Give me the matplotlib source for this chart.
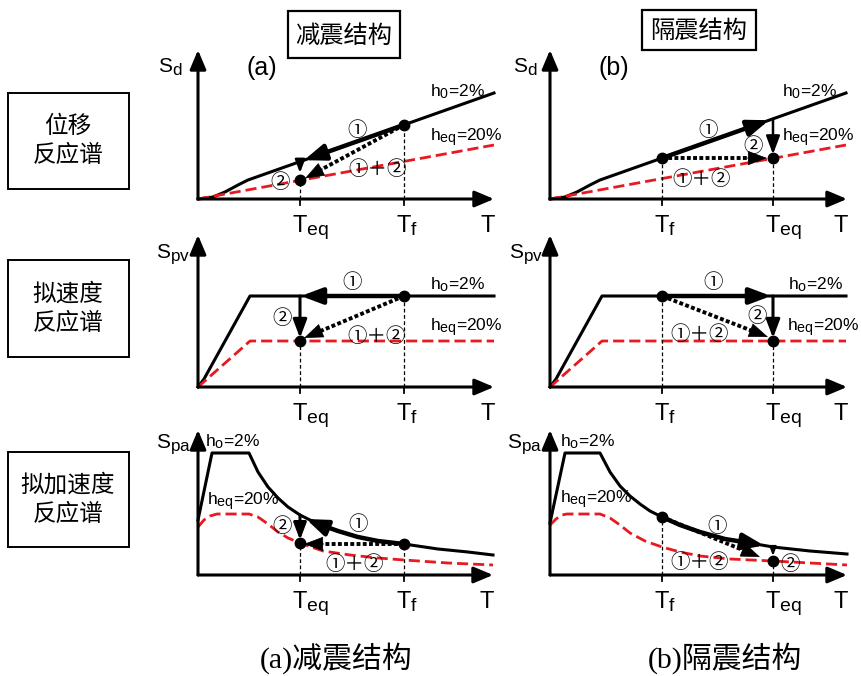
import numpy as np
import matplotlib
import matplotlib.pyplot as plt
from matplotlib.patches import Rectangle

plt.rcParams['font.family'] = ['Liberation Sans', 'Noto Sans CJK JP']
plt.rcParams['mathtext.default'] = 'regular'
# subscripts in the source drawing are nearly full size
matplotlib._mathtext.SHRINK_FACTOR = 0.82

# curves, in pixels right of / above each panel's origin
# displacement spectrum (same shape in (a) and (b))
sd_t = [0, 15, 27, 40, 50, 296]
sd_h0 = [0, 2, 7, 14, 19, 106]
sd_heq_t = [0, 296]
sd_heq = [0, 54]

# pseudo-velocity spectrum
pv_t = [0, 6, 52, 296]
pv_h0 = [0, 8, 91, 91]
pv_heq_t = [0, 52, 296]
pv_heq = [0, 46, 46]

# pseudo-acceleration spectrum, (a)
pa_a_t = [0, 14, 51, 60, 70, 80, 90, 102, 120, 140, 160, 180, 206, 240, 270, 295]
pa_a_h0 = [55, 122, 122, 103, 88, 77, 68, 60, 51, 44, 38, 34, 31, 26, 23, 20]
pa_a_heq_t = [0, 6, 12, 19, 51, 60, 70, 80, 90, 102, 125, 152, 180, 206, 250, 295]
pa_a_heq = [48, 55, 59, 61, 61, 58, 51, 43, 37, 32, 24, 20, 17, 15, 12, 10]

# pseudo-acceleration spectrum, (b)
pa_b_t = [0, 15, 50, 60, 70, 80, 90, 100, 112, 130, 150, 175, 200, 223, 260, 297]
pa_b_h0 = [52, 122, 122, 103, 89, 79, 71, 64, 58, 50, 43, 36, 32, 28, 24, 21]
pa_b_heq_t = [0, 6, 12, 17, 50, 60, 70, 80, 95, 112, 130, 150, 180, 223, 260, 297]
pa_b_heq = [50, 56, 60, 61, 61, 57, 50, 42, 34, 28, 23, 19, 16, 14, 12, 10]

# periods
ta_eq, ta_f = 102, 206
tb_f, tb_eq = 112, 223

row_names = ['位移\n反应谱', '拟速度\n反应谱', '拟加速度\n反应谱']

W, H = 861, 676
RED = '#e8191f'
CJK = ['Noto Sans CJK SC']
NUM = ['Noto Sans CJK JP']

fig = plt.figure(figsize=(W / 100, H / 100), dpi=100)

bg = fig.add_axes([0, 0, 1, 1])
bg.set_xlim(0, W)
bg.set_ylim(H, 0)
bg.axis('off')


def panel(ox, oy):
    ax = fig.add_axes([(ox - 50) / W, (H - (oy + 45)) / H, 360 / W, 205 / H])
    ax.set_xlim(-50, 310)
    ax.set_ylim(-45, 160)
    ax.axis('off')
    return ax


def head(ax, p0, p1, ms=15, lw=1.0):
    ax.annotate('', xy=p1, xytext=p0,
                arrowprops=dict(arrowstyle='-|>,head_length=0.85,head_width=0.32', lw=lw, color='k',
                                shrinkA=0, shrinkB=0, mutation_scale=ms))


def arrow(ax, p0, p1, ms=15, lw=3.2):
    head(ax, p0, p1, ms=ms, lw=lw)


def dotted(ax, p0, p1, ms=15):
    p0, p1 = np.array(p0, float), np.array(p1, float)
    d = p1 - p0
    d /= np.hypot(*d)
    ax.plot([p0[0], p1[0] - 10 * d[0]], [p0[1], p1[1] - 10 * d[1]], color='k', lw=2.8,
            ls=(0, (1, 0.6)))
    head(ax, p1 - 20 * d, p1, ms=ms, lw=0.5)


def frame(ax, xtip, ytip, ticks, tick_labels, h0_lab, h0_pos, heq_pos, ylab, ylab_pos):
    for end in [(xtip, 0), (0, ytip)]:
        ax.annotate('', xy=end, xytext=(0, 0),
                    arrowprops=dict(arrowstyle='-|>,head_length=0.9,head_width=0.38', lw=2.2, color='k',
                                    shrinkA=0, shrinkB=0, mutation_scale=13))
    for t, lab in zip(ticks, tick_labels):
        ax.plot([t, t], [0, -6], color='k', lw=1.3)
        ax.text(t - 8, -33, lab, fontsize=17, ha='left', va='baseline')
    ax.text(xtip - 14, -33, 'T', fontsize=17, ha='left', va='baseline')
    ax.text(h0_pos[0], h0_pos[1], h0_lab, fontsize=12.5, ha='left', va='center')
    ax.text(heq_pos[0], heq_pos[1], 'h$_{eq}$=20%', fontsize=12.5, ha='left', va='center')
    ax.text(ylab_pos[0], ylab_pos[1], ylab, fontsize=15, ha='left', va='baseline')


def guides(ax, pts):
    for x, y in pts:
        ax.plot([x, x], [0, y], color='k', lw=0.9, ls=(0, (3, 2)))
        ax.plot([x], [y], 'o', color='k', ms=7.5, zorder=5)


def num(ax, x, y, s):
    ax.text(x, y, s, fontsize=14, ha='center', va='center', family=NUM)


TEQ = 'T$_{eq}$'
TF = 'T$_{f}$'

# ---------- row 1: displacement ----------
for col, (ox, ticks, labs) in enumerate([(198, (ta_eq, ta_f), (TEQ, TF)),
                                          (550, (tb_f, tb_eq), (TF, TEQ))]):
    ax = panel(ox, 199)
    ax.plot(sd_t, sd_h0, color='k', lw=2.2)
    ax.plot(sd_heq_t, sd_heq, color=RED, lw=2, ls=(0, (4, 1.8)))
    frame(ax, 296 if col == 0 else 297, 149, ticks, labs, 'h$_0$=2%', (232, 107), (232, 61),
          'S$_d$', (-40 if col == 0 else -37, 126))
    ax.text(64, 131, '(a)' if col == 0 else '(b)', fontsize=18, ha='center', va='center')
    if col == 0:
        pf = (ta_f, np.interp(ta_f, sd_t, sd_h0))
        pe = (ta_eq, np.interp(ta_eq, sd_heq_t, sd_heq))
        arrow(ax, pf, (106, np.interp(106, sd_t, sd_h0)))
        arrow(ax, (ta_eq, np.interp(ta_eq, sd_t, sd_h0)), (ta_eq, 26), ms=9, lw=1.8)
        dotted(ax, pf, (pe[0] + 5, pe[1] + 2))
        guides(ax, [pe, pf])
        num(ax, 159, 69, '①')
        num(ax, 180, 29, '①＋②')
        num(ax, 82, 16, '②')
    else:
        pf = (tb_f, np.interp(tb_f, sd_t, sd_h0))
        pe = (tb_eq, np.interp(tb_eq, sd_heq_t, sd_heq))
        arrow(ax, pf, (219, np.interp(219, sd_t, sd_h0)))
        arrow(ax, (tb_eq, np.interp(tb_eq, sd_t, sd_h0)), (tb_eq, pe[1] + 4), ms=13, lw=1.8)
        dotted(ax, pf, (pe[0] - 6, pf[1]))
        guides(ax, [pf, pe])
        num(ax, 158, 68, '①')
        num(ax, 203, 53, '②')
        num(ax, 152, 19, '①＋②')

# ---------- row 2: pseudo-velocity ----------
for col, (ox, ticks, labs) in enumerate([(198, (ta_eq, ta_f), (TEQ, TF)),
                                          (550, (tb_f, tb_eq), (TF, TEQ))]):
    ax = panel(ox, 387)
    ax.plot(pv_t, pv_h0, color='k', lw=2.2)
    ax.plot(pv_heq_t, pv_heq, color=RED, lw=2, ls=(0, (4, 1.8)))
    frame(ax, 296 if col == 0 else 297, 152, ticks, labs, 'h$_o$=2%',
          (232 if col == 0 else 238, 102), (232 if col == 0 else 237, 59),
          'S$_{pv}$', (-42 if col == 0 else -41, 128))
    if col == 0:
        pf = (ta_f, np.interp(ta_f, pv_t, pv_h0))
        pe = (ta_eq, np.interp(ta_eq, pv_heq_t, pv_heq))
        arrow(ax, pf, (ta_eq + 1, pf[1]))
        arrow(ax, (ta_eq, pf[1]), (ta_eq, pe[1] + 3), ms=13, lw=2.2)
        dotted(ax, pf, (pe[0] + 4, pe[1] + 3))
        guides(ax, [pe, pf])
        num(ax, 154, 104, '①')
        num(ax, 84, 69, '②')
        num(ax, 179, 50, '①＋②')
    else:
        pf = (tb_f, np.interp(tb_f, pv_t, pv_h0))
        pe = (tb_eq, np.interp(tb_eq, pv_heq_t, pv_heq))
        arrow(ax, pf, (tb_eq - 2, pf[1]))
        arrow(ax, (tb_eq, pf[1]), (tb_eq, pe[1] + 3), ms=13, lw=2.2)
        dotted(ax, pf, (pe[0] - 5, pe[1] + 4))
        guides(ax, [pf, pe])
        num(ax, 163, 104, '①')
        num(ax, 207, 70, '②')
        num(ax, 150, 52, '①＋②')

# ---------- row 3: pseudo-acceleration ----------
ax = panel(198, 575)
ax.plot(pa_a_t, pa_a_h0, color='k', lw=2.2)
ax.plot(pa_a_heq_t, pa_a_heq, color=RED, lw=2, ls=(0, (4, 1.8)))
frame(ax, 295, 145, (ta_eq, ta_f), (TEQ, TF), 'h$_o$=2%', (7, 133), (9, 73), 'S$_{pa}$', (-42, 126))
pf = (ta_f, np.interp(ta_f, pa_a_t, pa_a_h0))
pe = (ta_eq, np.interp(ta_eq, pa_a_heq_t, pa_a_heq))
seg = [(t, s) for t, s in zip(pa_a_t, pa_a_h0) if 120 <= t <= ta_f]
ax.plot([p[0] for p in seg], [p[1] for p in seg], color='k', lw=3.2, solid_capstyle='round')
arrow(ax, seg[0], (108, np.interp(108, pa_a_t, pa_a_h0) - 1))
arrow(ax, (ta_eq, np.interp(ta_eq, pa_a_t, pa_a_h0)), (ta_eq, pe[1] + 3), ms=12, lw=2.2)
dotted(ax, pf, (ta_eq + 4, pf[1]))
guides(ax, [pe, pf])
num(ax, 84, 48, '②')
num(ax, 160, 50, '①')
num(ax, 157, 10, '①＋②')

ax = panel(550, 575)
ax.plot(pa_b_t, pa_b_h0, color='k', lw=2.2)
ax.plot(pa_b_heq_t, pa_b_heq, color=RED, lw=2, ls=(0, (4, 1.8)))
frame(ax, 297, 145, (tb_f, tb_eq), (TF, TEQ), 'h$_o$=2%', (10, 133), (10, 75), 'S$_{pa}$', (-43, 126))
pf = (tb_f, np.interp(tb_f, pa_b_t, pa_b_h0))
pe = (tb_eq, np.interp(tb_eq, pa_b_heq_t, pa_b_heq))
seg = [(t, s) for t, s in zip(pa_b_t, pa_b_h0) if tb_f <= t <= 200]
ax.plot([p[0] for p in seg], [p[1] for p in seg], color='k', lw=3.2, solid_capstyle='round')
arrow(ax, seg[-1], (214, np.interp(214, pa_b_t, pa_b_h0)))
arrow(ax, (tb_eq, np.interp(tb_eq, pa_b_t, pa_b_h0)), (tb_eq, pe[1] + 5), ms=6, lw=1.5)
dotted(ax, pf, (210, 18))
guides(ax, [pf, pe])
num(ax, 167, 48, '①')
num(ax, 150, 12, '①＋②')
num(ax, 240, 10, '②')

# ---------- boxes and captions ----------
for (y0, y1), name in zip([(93, 189), (260, 357), (452, 547)], row_names):
    bg.add_patch(Rectangle((8, y0), 121, y1 - y0, fill=False, ec='k', lw=1.4))
    bg.text(68, (y0 + y1) / 2, name, fontsize=17, ha='center', va='center', family=CJK, linespacing=1.35)

bg.add_patch(Rectangle((288, 11), 112, 47, fill=False, ec='k', lw=1.6))
bg.text(344, 36, '减震结构', fontsize=17.5, ha='center', va='center', family=CJK)
bg.add_patch(Rectangle((642, 10), 114, 40, fill=False, ec='k', lw=1.6))
bg.text(699, 31, '隔震结构', fontsize=17.5, ha='center', va='center', family=CJK)

bg.text(336, 658, '(a)减震结构', fontsize=21.5, ha='center', va='center', family=['Liberation Serif'] + CJK)
bg.text(725, 658, '(b)隔震结构', fontsize=21.5, ha='center', va='center', family=['Liberation Serif'] + CJK)

fig.savefig('out.png', dpi=100)
